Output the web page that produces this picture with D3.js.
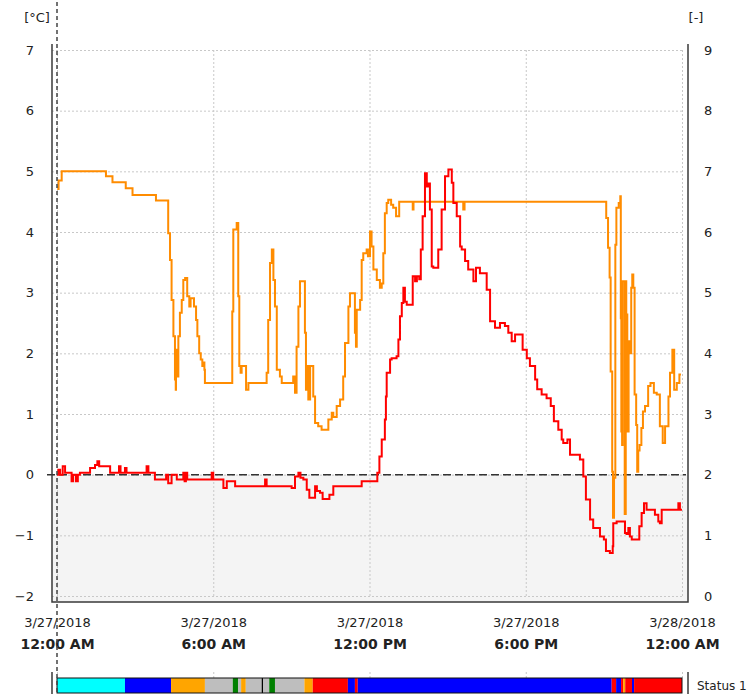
<!DOCTYPE html>
<html>
<head>
<meta charset="utf-8">
<script src="https://cdn.jsdelivr.net/npm/d3@7"></script>
<style>
  body { margin: 0; background: #fff; }
  svg text { font-family: "DejaVu Sans", Verdana, sans-serif; fill: #222; }
  .grid line { stroke: #c8c8c8; stroke-dasharray: 2,2; }
  .grid .domain { display: none; }
</style>
</head>
<body>
<svg id="chart" width="754" height="694"></svg>
<script>
// hours after 3/27/2018 12:00 AM
const redHours = [0.00,0.05,0.12,0.22,0.31,0.45,0.56,0.62,0.73,0.80,0.88,1.24,1.27,1.46,1.55,1.62,1.97,2.04,2.30,2.38,2.44,2.61,2.67,3.38,3.44,3.51,3.70,3.76,4.10,4.19,4.27,4.40,4.53,4.60,4.80,4.85,4.90,4.95,5.00,5.88,5.94,6.00,6.32,6.39,6.52,6.71,6.84,7.92,7.99,8.05,8.95,9.01,9.14,9.27,9.35,9.46,9.59,9.69,9.84,9.91,9.98,10.10,10.20,10.36,10.46,10.61,11.57,11.70,12.21,12.30,12.38,12.47,12.59,12.63,12.66,12.79,12.85,13.04,13.11,13.17,13.24,13.30,13.36,13.43,13.62,13.66,13.75,13.82,13.91,13.97,14.04,14.13,14.20,14.25,14.32,14.39,14.45,14.55,14.64,14.77,14.90,15.03,15.16,15.22,15.35,15.48,15.54,15.67,15.79,15.99,16.09,16.24,16.50,16.63,16.82,16.92,17.01,17.20,17.33,17.46,17.59,17.78,17.88,18.04,18.16,18.36,18.44,18.61,18.80,18.96,19.08,19.25,19.38,19.44,19.60,19.70,19.89,20.08,20.21,20.31,20.47,20.59,20.74,20.85,21.00,21.08,21.23,21.34,21.36,21.49,21.72,21.81,21.87,21.94,22.00,22.07,22.28,22.36,22.45,22.54,22.64,22.84,22.96,23.09,23.15,23.22,23.73,23.86,23.92,23.96];
const redTemp = [0.00,0.08,0.00,0.14,0.03,0.03,-0.11,0.00,-0.11,0.00,0.03,0.03,0.11,0.16,0.22,0.14,0.14,0.03,0.03,0.14,0.03,0.11,0.03,0.03,0.14,0.03,0.03,-0.08,-0.08,0.00,-0.14,0.00,0.00,-0.08,-0.08,0.03,-0.11,0.03,-0.08,-0.08,0.03,-0.08,-0.08,-0.22,-0.11,-0.11,-0.19,-0.19,-0.08,-0.19,-0.19,-0.22,-0.03,0.03,-0.05,-0.08,-0.25,-0.38,-0.38,-0.19,-0.27,-0.30,-0.40,-0.40,-0.33,-0.19,-0.19,-0.11,-0.11,0.03,0.30,0.58,0.91,1.29,1.68,1.90,1.92,1.95,2.23,2.61,2.83,3.08,2.85,2.80,2.80,3.27,3.19,3.27,3.22,3.71,4.26,4.97,4.75,4.80,4.37,3.43,3.41,3.41,3.71,4.37,4.92,5.03,4.81,4.48,4.26,3.76,3.71,3.52,3.38,3.19,3.41,3.32,3.05,2.53,2.42,2.42,2.50,2.45,2.34,2.20,2.31,2.31,2.06,1.92,1.79,1.57,1.41,1.32,1.26,1.13,0.88,0.74,0.58,0.52,0.58,0.33,0.33,0.25,-0.03,-0.41,-0.74,-0.88,-0.88,-1.02,-1.07,-1.26,-1.29,-1.18,-0.80,-0.77,-0.77,-0.96,-0.98,-0.88,-1.02,-1.07,-1.07,-0.85,-0.63,-0.47,-0.58,-0.58,-0.66,-0.77,-0.80,-0.58,-0.58,-0.47,-0.58,-0.56];

// orange series, read against the right axis [-]
const orangeHours = [0.01,0.06,0.18,1.84,1.88,2.10,2.13,2.61,2.64,2.87,2.90,3.76,3.80,4.21,4.27,4.34,4.40,4.47,4.53,4.56,4.57,4.62,4.66,4.72,4.79,4.85,4.92,5.00,5.08,5.13,5.21,5.26,5.34,5.39,5.46,5.52,5.58,5.62,5.66,5.68,6.71,6.73,6.77,6.90,6.96,7.00,7.05,7.09,7.22,7.26,7.35,7.99,8.05,8.11,8.18,8.25,8.31,8.37,8.44,8.56,8.63,9.01,9.07,9.14,9.20,9.27,9.33,9.46,9.52,9.56,9.59,9.65,9.72,9.84,9.91,10.03,10.16,10.29,10.42,10.55,10.61,10.74,10.87,10.99,11.06,11.19,11.25,11.38,11.44,11.48,11.51,11.64,11.70,11.76,11.89,11.94,12.02,12.08,12.15,12.28,12.40,12.47,12.53,12.59,12.66,12.72,12.83,12.91,13.02,13.14,13.63,13.66,13.69,15.57,15.60,15.65,21.03,21.09,21.16,21.22,21.26,21.29,21.32,21.35,21.39,21.44,21.48,21.57,21.63,21.65,21.67,21.70,21.72,21.77,21.80,21.84,21.86,21.90,21.95,22.00,22.05,22.09,22.13,22.18,22.24,22.28,22.32,22.37,22.44,22.50,22.58,22.70,22.79,22.92,23.03,23.15,23.26,23.35,23.48,23.54,23.63,23.70,23.80,23.90,23.96];
const orangeValues = [6.71,6.85,7.00,7.00,6.92,6.92,6.82,6.82,6.72,6.72,6.61,6.61,6.52,6.52,5.98,5.54,4.88,4.28,3.57,3.40,4.06,3.62,4.28,4.67,4.88,5.21,5.24,4.94,4.77,4.91,4.91,4.77,4.55,4.28,4.00,3.90,3.79,3.85,3.73,3.51,3.51,4.69,6.04,6.15,4.94,3.79,3.68,3.79,3.79,3.40,3.51,3.51,3.68,4.55,5.49,5.71,5.21,4.77,3.73,3.62,3.51,3.51,3.62,3.35,4.11,4.77,5.19,5.19,4.34,3.40,3.79,3.24,3.79,3.29,2.85,2.80,2.74,2.74,2.91,3.02,2.95,3.13,3.24,3.62,4.17,4.77,4.99,4.99,4.34,4.11,4.72,4.88,5.54,5.65,5.71,5.60,6.01,5.76,5.38,5.21,5.08,5.15,5.65,6.31,6.48,6.53,6.45,6.40,6.26,6.50,6.50,6.37,6.50,6.50,6.37,6.50,6.50,6.23,5.74,5.25,3.70,3.70,2.05,1.29,1.95,5.79,6.40,6.48,6.59,4.58,2.71,2.49,5.19,5.19,1.35,5.19,4.64,2.71,4.20,4.00,5.08,5.30,5.08,3.32,2.82,2.05,2.40,2.49,2.77,3.04,3.13,3.46,3.51,3.35,3.32,2.80,2.52,2.80,3.29,3.68,4.06,3.40,3.51,3.65,3.65];

// status bar: start hour and state code of each segment (ends at 24)
const statusStart = [0,2.61,4.38,5.68,6.75,6.95,7.07,7.25,7.86,7.92,8.15,8.37,9.5,9.82,11.17,11.44,11.55,21.30,21.47,21.66,21.74,21.82,22.08,22.16];
const statusCode = [1,2,3,4,5,4,3,4,6,4,5,4,3,7,2,7,2,7,2,7,3,7,2,7];

const leftTicks = [-2,-1,0,1,2,3,4,5,6,7];
const rightTicks = [0,1,2,3,4,5,6,7,8,9];

const t0 = new Date(2018, 2, 27);
const toDate = h => new Date(t0.getTime() + h * 3600000);

const svg = d3.select('#chart');
const plotLeft = 52, plotRight = 688, plotTop = 50, plotBottom = 596, frameBottom = 602;

const x = d3.scaleTime().domain([t0, toDate(24)]).range([57, 682]);
const yLeft = d3.scaleLinear().domain([-2, 7]).range([plotBottom, plotTop]);
const yRight = d3.scaleLinear().domain([0, 9]).range([plotBottom, plotTop]);

// shaded area below zero
svg.append('rect')
    .attr('x', plotLeft).attr('y', yLeft(0))
    .attr('width', plotRight - plotLeft).attr('height', frameBottom - yLeft(0))
    .attr('fill', '#f4f4f4');

// grid
svg.append('g').attr('class', 'grid')
    .attr('transform', `translate(${plotLeft},0)`)
    .call(d3.axisLeft(yLeft).tickValues(leftTicks).tickSize(-(682 - plotLeft)).tickFormat(''));
svg.append('g').attr('class', 'grid')
    .attr('transform', `translate(0,${plotBottom})`)
    .call(d3.axisBottom(x).ticks(d3.timeHour.every(6)).tickSize(-(plotBottom - plotTop)).tickFormat(''));
svg.append('g').attr('class', 'grid')
    .attr('transform', 'translate(0,672)')
    .call(d3.axisBottom(x).ticks(d3.timeHour.every(6)).tickSize(6).tickFormat(''));

// zero line
svg.append('line')
    .attr('x1', 47).attr('x2', 686)
    .attr('y1', yLeft(0)).attr('y2', yLeft(0))
    .attr('stroke', '#333').attr('stroke-width', 1.5)
    .attr('stroke-dasharray', '8,4');

// frame
svg.append('path')
    .attr('d', `M${plotLeft},44V${frameBottom}H${plotRight}V44`)
    .attr('fill', 'none').attr('stroke', '#3a3a3a').attr('stroke-width', 1.5);

// series (logged values hold until the next sample)
const lineOrange = d3.line()
    .curve(d3.curveStepAfter)
    .x(i => x(toDate(orangeHours[i])))
    .y(i => yRight(orangeValues[i]));
const lineRed = d3.line()
    .curve(d3.curveStepAfter)
    .x(i => x(toDate(redHours[i])))
    .y(i => yLeft(redTemp[i]));

svg.append('path')
    .attr('d', lineOrange(d3.range(orangeHours.length)))
    .attr('fill', 'none').attr('stroke', '#ff8c00').attr('stroke-width', 2);
svg.append('path')
    .attr('d', lineRed(d3.range(redHours.length)))
    .attr('fill', 'none').attr('stroke', '#ff0000').attr('stroke-width', 2);

// axes
const yAxisL = svg.append('g')
    .attr('transform', `translate(${plotLeft},0)`)
    .call(d3.axisLeft(yLeft).tickValues(leftTicks).tickSize(0).tickPadding(18));
const yAxisR = svg.append('g')
    .attr('transform', `translate(${plotRight},0)`)
    .call(d3.axisRight(yRight).tickValues(rightTicks).tickSize(0).tickPadding(16));
[yAxisL, yAxisR].forEach(g => {
    g.select('.domain').remove();
    g.selectAll('text').attr('font-size', 13).attr('font-family', null);
});

svg.append('text').attr('x', 37).attr('y', 22).attr('text-anchor', 'middle')
    .attr('font-size', 13).text('[°C]');
svg.append('text').attr('x', 696).attr('y', 22).attr('text-anchor', 'middle')
    .attr('font-size', 13).text('[-]');

const dateAxis = svg.append('g')
    .attr('transform', `translate(0,${frameBottom})`)
    .call(d3.axisBottom(x).ticks(d3.timeHour.every(6)).tickSize(0).tickPadding(16)
        .tickFormat(d3.timeFormat('%-m/%-d/%Y')));
const timeAxis = svg.append('g')
    .attr('transform', `translate(0,${frameBottom})`)
    .call(d3.axisBottom(x).ticks(d3.timeHour.every(6)).tickSize(0).tickPadding(37)
        .tickFormat(d3.timeFormat('%-I:%M %p')));
dateAxis.selectAll('text').attr('font-size', 13).attr('font-family', null);
timeAxis.selectAll('text').attr('font-size', 14).attr('font-weight', 'bold').attr('font-family', null);
[dateAxis, timeAxis].forEach(g => g.select('.domain').remove());

// status bar
const statusColor = d3.scaleOrdinal()
    .domain([1, 2, 3, 4, 5, 6, 7])
    .range(['#00ffff', '#0000ff', '#ffa500', '#bebebe', '#008000', '#000000', '#ff0000']);

svg.append('g').selectAll('rect')
    .data(statusStart)
    .join('rect')
    .attr('x', d => x(toDate(d)))
    .attr('width', (d, i) => x(toDate(i < statusStart.length - 1 ? statusStart[i + 1] : 24)) - x(toDate(d)))
    .attr('y', 678).attr('height', 15)
    .attr('fill', (d, i) => statusColor(statusCode[i]));
svg.append('rect')
    .attr('x', x(toDate(0))).attr('width', x(toDate(24)) - x(toDate(0)))
    .attr('y', 678).attr('height', 15)
    .attr('fill', 'none').attr('stroke', '#111').attr('stroke-width', 1);
svg.append('path')
    .attr('d', `M${plotLeft},672V694M${plotRight},672V694`)
    .attr('stroke', '#3a3a3a').attr('stroke-width', 1.5);
svg.append('text').attr('x', 697).attr('y', 690).attr('font-size', 12).text('Status 1');

// cursor line at start of range
svg.append('line')
    .attr('x1', x(t0)).attr('x2', x(t0))
    .attr('y1', 2).attr('y2', 694)
    .attr('stroke', '#444').attr('stroke-width', 1.5)
    .attr('stroke-dasharray', '4,3');
</script>
</body>
</html>
